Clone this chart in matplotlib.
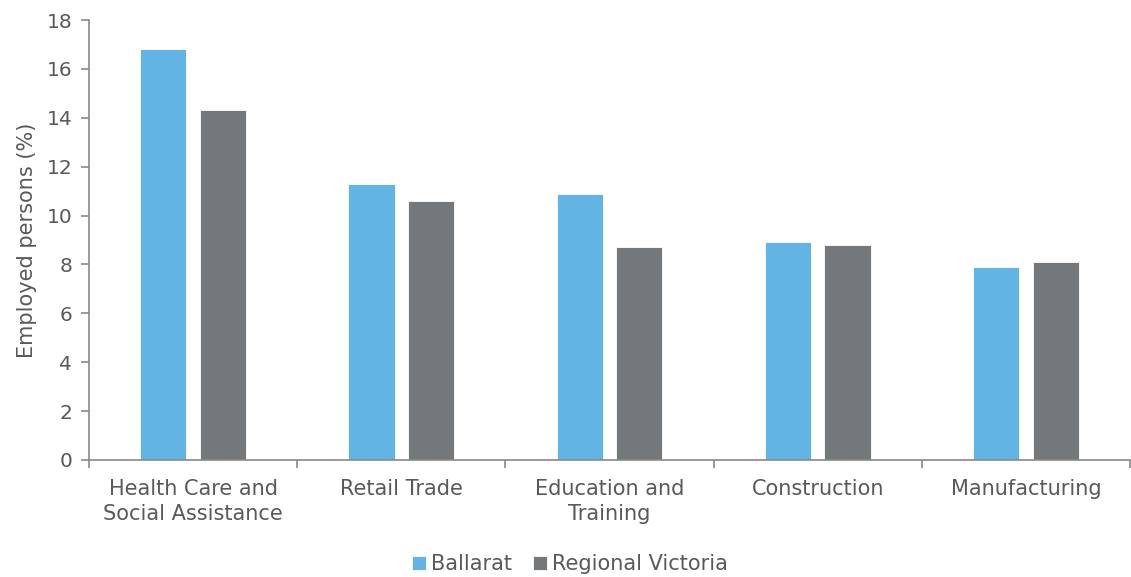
import numpy as np
import matplotlib.pyplot as plt

categories = ["Health Care and\nSocial Assistance", "Retail Trade", "Education and\nTraining",
              "Construction", "Manufacturing"]
ballarat = [16.8, 11.3, 10.9, 8.9, 7.9]
regional_vic = [14.3, 10.6, 8.7, 8.8, 8.1]

blue = "#62B4E4"
grey = "#75787B"
axis_col = "#898989"
text_col = "#595959"

plt.rcParams['font.family'] = ['DejaVu Sans']

fig = plt.figure(figsize=(11.31, 5.77), dpi=100)
ax = fig.add_axes([0.0787, 0.2028, 0.9205, 0.7625])

x = np.arange(len(categories))
w = 0.222
ax.bar(x - 0.143, ballarat, w, color=blue, edgecolor="white", linewidth=0.6, label="Ballarat")
ax.bar(x + 0.143, regional_vic, w, color=grey, edgecolor="white", linewidth=0.6, label="Regional Victoria")

ax.set_xlim(-0.5, len(categories) - 0.5)
ax.set_ylim(0, 18)
ax.set_yticks(np.arange(0, 19, 2))
ax.set_xticks(np.arange(-0.5, len(categories), 1.0))
ax.set_xticklabels([])
ax.set_xticks(x, minor=True)
ax.set_xticklabels(categories, minor=True, fontsize=15, color=text_col, linespacing=1.3)
ax.tick_params(axis="x", which="minor", length=0, pad=14)
ax.tick_params(axis="x", which="major", length=6, color=axis_col, width=1.2)
ax.tick_params(axis="y", length=6, color=axis_col, width=1.2, labelsize=14.5, labelcolor=text_col, pad=6)

for s in ["top", "right"]:
    ax.spines[s].set_visible(False)
for s in ["left", "bottom"]:
    ax.spines[s].set_color(axis_col)
    ax.spines[s].set_linewidth(1.2)

ax.set_ylabel("Employed persons (%)", fontsize=15, color=text_col, labelpad=7)

fig.legend(loc="center", bbox_to_anchor=(0.504, 0.022), ncol=2, frameon=False,
           fontsize=15, labelcolor=text_col, handlelength=0.65, handleheight=0.65,
           handletextpad=0.25, columnspacing=1.0)

fig.savefig("out.png", dpi=100)
